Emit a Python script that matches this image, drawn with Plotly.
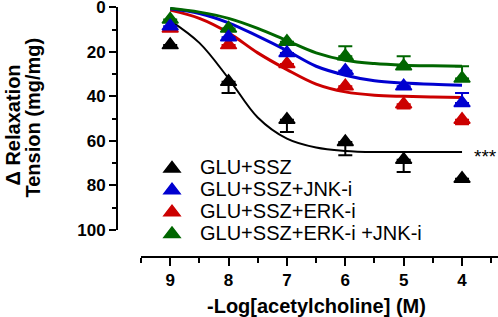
import plotly.graph_objects as go

# ---------------- data ----------------
conc = [9, 8, 7, 6, 5, 4]
x_tick_labels = ["9", "8", "7", "6", "5", "4"]
y_ticks = [0, 20, 40, 60, 80, 100]
y_tick_labels = ["0", "20", "40", "60", "80", "100"]

series_names = ["GLU+SSZ", "GLU+SSZ+JNK-i", "GLU+SSZ+ERK-i", "GLU+SSZ+ERK-i +JNK-i"]

glu_ssz = [17, 33.5, 50.5, 60.5, 68.5, 77]
glu_ssz_err = [0, 5, 5.5, 6, 5.5, 0]
glu_ssz_jnk = [8.5, 13.5, 20.5, 28.5, 35.5, 43]
glu_ssz_jnk_err = [0, 0, 0, 0, 0, 4.5]
glu_ssz_erk = [9.5, 17, 25.5, 35.5, 43.5, 50.5]
glu_ssz_erk_err = [0, 0, 0, 0, 2, 2]
glu_ssz_erk_jnk = [5.5, 9.5, 15.5, 22, 26.5, 32]
glu_ssz_erk_jnk_err = [0, 0, 0, 4.5, 4.5, 5.5]

# fitted curves
fit_x = [9, 8.5, 8, 7.5, 7, 6.5, 6, 5.5, 5, 4.5, 4]
fit_glu_ssz = [6, 16, 32, 49.5, 59, 63, 64.5, 65, 65, 65, 65]
fit_glu_ssz_jnk = [0.7, 2.8, 7, 13, 19.5, 26.5, 30.5, 33, 34, 34.6, 35]
fit_glu_ssz_erk = [1.3, 5, 11.5, 20.5, 28, 34.5, 38, 39.5, 40, 40.3, 40.5]
fit_glu_ssz_erk_jnk = [0.5, 2.2, 5, 9.5, 15, 20.5, 23.8, 25.3, 26, 26.3, 26.5]

sig_label = "***"

# ---------------- style ----------------
BLACK = "#000000"
BLUE = "#0000D0"
RED = "#CC0000"
GREEN = "#006600"
FONT = "Liberation Sans, Arial, sans-serif"

fig = go.Figure()

# curves (drawn beneath points)
for ys, col, w in [(fit_glu_ssz, BLACK, 2), (fit_glu_ssz_erk, RED, 3),
                   (fit_glu_ssz_jnk, BLUE, 3), (fit_glu_ssz_erk_jnk, GREEN, 3)]:
    fig.add_trace(go.Scatter(x=fit_x, y=ys, mode="lines",
                             line=dict(color=col, width=w, shape="spline", smoothing=1),
                             showlegend=False, hoverinfo="skip", cliponaxis=False))

def pts(name, ys, err, col, rank, up):
    if up:
        ey = dict(type="data", symmetric=False, array=[0] * len(err), arrayminus=err,
                  color=col, thickness=2, width=7)
    else:
        ey = dict(type="data", symmetric=False, array=err, arrayminus=[0] * len(err),
                  color=col, thickness=2, width=7)
    return go.Scatter(
        x=conc, y=ys, mode="markers",
        name='<span style="font-size:20px">' + name + "</span>",
        legendrank=rank,
        marker=dict(symbol="triangle-up", size=14, color=col,
                    line=dict(color=col, width=1.5)),
        error_y=ey, cliponaxis=False)

fig.add_trace(pts(series_names[0], glu_ssz, glu_ssz_err, BLACK, 1, False))
fig.add_trace(pts(series_names[3], glu_ssz_erk_jnk, glu_ssz_erk_jnk_err, GREEN, 4, True))
fig.add_trace(pts(series_names[2], glu_ssz_erk, glu_ssz_erk_err, RED, 3, False))
fig.add_trace(pts(series_names[1], glu_ssz_jnk, glu_ssz_jnk_err, BLUE, 2, True))

# plot area in px: x 117..498, y 7..257
def px_x(p):
    return (p - 117) / 381.0

def px_y(p):
    return (257 - p) / 250.0

fig.update_layout(
    width=498, height=317,
    margin=dict(l=117, r=0, t=7, b=60, autoexpand=False),
    paper_bgcolor="white", plot_bgcolor="white",
    font=dict(family=FONT, color="black"),
    showlegend=True,
    legend=dict(x=px_x(144), y=px_y(152.5), xanchor="left", yanchor="top",
                bgcolor="rgba(0,0,0,0)", borderwidth=0, itemwidth=46,
                font=dict(family=FONT, size=14.5, color="black"),
                traceorder="normal"),
    xaxis=dict(
        domain=[px_x(141), 1], range=[9.5, 3.384], anchor="free", position=0,
        automargin=False, ticklabeloverflow="allow",
        showgrid=False, zeroline=False, showline=True, linecolor="black", linewidth=2,
        ticks="outside", ticklen=8, tickwidth=2, tickcolor="black",
        tickmode="array", tickvals=conc, ticktext=x_tick_labels,
        tickfont=dict(family=FONT, size=17, color="black", weight="bold"),
        minor=dict(ticks="outside", ticklen=5, tickwidth=2, tickcolor="black",
                   tick0=0.5, dtick=1),
    ),
    yaxis=dict(
        domain=[px_y(230), 1], range=[100, -0.1], anchor="free", position=0,
        automargin=False, ticklabeloverflow="allow",
        showgrid=False, zeroline=False, showline=True, linecolor="black", linewidth=2,
        ticks="outside", ticklen=7, tickwidth=2, tickcolor="black",
        tickmode="array", tickvals=y_ticks, ticktext=y_tick_labels,
        tickfont=dict(family=FONT, size=17, color="black", weight="bold"),
        minor=dict(ticks="outside", ticklen=4, tickwidth=2, tickcolor="black",
                   tick0=10, dtick=20),
    ),
    annotations=[
        dict(text="\u0394 Relaxation", xref="paper", yref="paper",
             x=px_x(12.5), y=px_y(125), xanchor="center", yanchor="middle",
             textangle=-90, showarrow=False,
             font=dict(family=FONT, size=20, color="black", weight="bold")),
        dict(text="Tension (mg/mg)", xref="paper", yref="paper",
             x=px_x(33), y=px_y(117.5), xanchor="center", yanchor="middle",
             textangle=-90, showarrow=False,
             font=dict(family=FONT, size=20, color="black", weight="bold")),
        dict(text="-Log[acetylcholine] (M)", xref="paper", yref="paper",
             x=px_x(316), y=px_y(306), xanchor="center", yanchor="middle",
             showarrow=False,
             font=dict(family=FONT, size=20, color="black", weight="bold")),
        dict(text=sig_label, xref="x", yref="y", x=3.6, y=fit_glu_ssz[-1],
             xanchor="center", yanchor="middle", yshift=-4, showarrow=False,
             font=dict(family=FONT, size=19, color="black")),
    ],
)

# remove the browser's default 8px page margin so the figure fills the window
fig.write_html("out.html", config={"displayModeBar": False},
               post_script="document.body.style.margin='0px';")
